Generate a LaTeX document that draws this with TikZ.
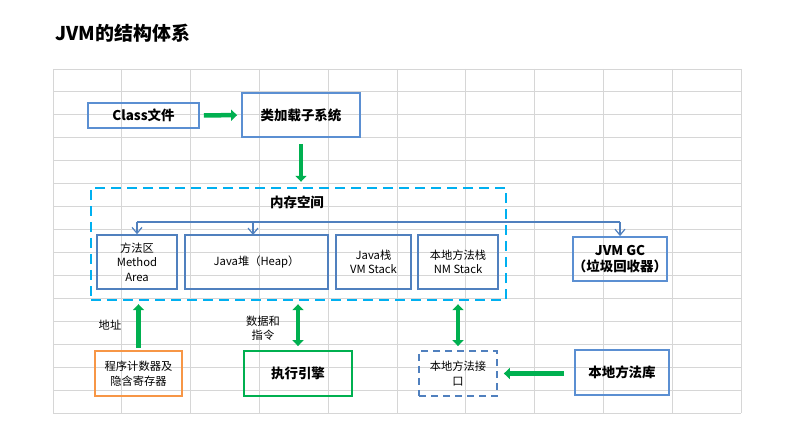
\documentclass[tikz,border=0pt]{standalone}
\usepackage{fontspec}
\setmainfont{Noto Sans CJK SC}
\usepackage{xcolor}
\usepackage{tikz}
\usetikzlibrary{arrows.meta,positioning}
\definecolor{gridgray}{HTML}{D6D6D6}
\definecolor{boxblue}{HTML}{5B8FD2}
\definecolor{innerblue}{HTML}{5080BE}
\definecolor{memcyan}{HTML}{00B0F0}
\definecolor{flowgreen}{HTML}{00B050}
\definecolor{pcorange}{HTML}{F79646}
\newcommand\smallcn{\fontsize{11.3}{14.5}\selectfont}
\newcommand\boldcn{\fontsize{13.5}{16}\selectfont\bfseries}

\begin{document}
\begin{tikzpicture}[x=1bp, y=-1bp]
                \tikzstyle{block} = [draw=boxblue, rectangle, line width=1.8bp, inner sep=0pt, align=center, font=\boldcn]
                \tikzstyle{inner} = [draw=innerblue, rectangle, line width=1.5bp, inner sep=0pt, minimum height=54bp, align=center, font=\smallcn]
                \tikzstyle{flow} = [draw=flowgreen, line width=4.5bp, -{Triangle[width=11bp,length=6bp]}]
                \tikzstyle{flowboth} = [draw=flowgreen, line width=4.5bp, {Triangle[width=11bp,length=6bp]}-{Triangle[width=11bp,length=6bp]}]
                \tikzstyle{busline} = [draw=innerblue, line width=1.2bp]
                \useasboundingbox (0,0) rectangle (802,433);

                % grid of the sheet
                \foreach \i in {0,...,10}
                    \draw [gridgray, line width=0.9bp] (53+68.8*\i,69) -- (53+68.8*\i,413);
                \foreach \j in {0,...,15}
                    \draw [gridgray, line width=0.9bp] (53,69+22.93*\j) -- (741,69+22.93*\j);

                \node [anchor=west, font=\fontsize{19}{21}\selectfont\bfseries] (title) at (52,33) {JVM的结构体系};

                \node [block, minimum width=111bp, minimum height=25bp] (cls) at (143.5,115.5) {Class文件};
                \node [block, minimum width=118bp, minimum height=44bp] (loader) at (301,115) {类加载子系统};

                \node [draw=memcyan, rectangle, line width=2.4bp, dash pattern=on 10bp off 6bp, minimum width=415bp, minimum height=112bp] (mem) at (298.5,244) {};
                \node [font=\boldcn] (memlabel) at (297,202) {内存空间};
                \node [inner, minimum width=80bp] (meth) at (137,262) {方法区\\Method\\Area};
                \node [inner, minimum width=143bp] (heap) at (256.5,262) {Java堆（Heap）};
                \node [inner, minimum width=75bp] (jstack) at (373.5,262) {Java栈\\VM Stack};
                \node [inner, minimum width=80bp] (nstack) at (458,262) {本地方法栈\\NM Stack};
                \node [block, minimum width=94bp, minimum height=44bp] (gc) at (620,259) {JVM GC\\（垃圾回收器）};

                \node [draw=pcorange, rectangle, line width=1.8bp, minimum width=87bp, minimum height=45bp, align=center, font=\smallcn] (pc) at (138.5,373.5) {程序计数器及\\隐含寄存器};
                \node [draw=flowgreen, rectangle, line width=1.8bp, minimum width=108bp, minimum height=45bp, font=\boldcn] (exec) at (298,373.5) {执行引擎};
                \node [draw=innerblue, rectangle, line width=1.8bp, dash pattern=on 7bp off 5bp, minimum width=78bp, minimum height=45bp, align=center, font=\smallcn] (nif) at (458,373.5) {本地方法接\\口};
                \node [block, minimum width=94bp, minimum height=45bp] (lib) at (622,372.5) {本地方法库};

                \node [font=\smallcn] (addr) at (110,325) {地址};
                \node [font=\smallcn, align=center] (data) at (263,328) {数据和\\指令};

                \coordinate (bus) at (300,222);
                \coordinate (heaptop) at (253,235);
                \draw [busline] (bus -| meth) -- (bus -| gc);
                \draw [busline, -{Straight Barb[length=6bp,width=10bp]}] (bus -| meth) -- (meth.north);
                \draw [busline, -{Straight Barb[length=6bp,width=10bp]}] (bus -| heaptop) -- (heaptop);
                \draw [busline, -{Straight Barb[length=6bp,width=10bp]}] (bus -| gc) -- (gc.north);

                \draw [flow, shorten <=4bp, shorten >=4bp] (cls) -- (loader);
                \draw [flow, shorten <=6bp, shorten >=5bp] (loader.south) -- (loader.south |- mem.north);
                \draw [flow, shorten <=2bp, shorten >=3bp] (pc.north) -- (pc.north |- mem.south);
                \draw [flowboth, shorten <=3bp, shorten >=4bp] (mem.south -| exec) -- (exec.north);
                \draw [flowboth, shorten <=3bp, shorten >=4bp] (mem.south -| nif) -- (nif.north);
                \draw [flow, shorten <=10bp, shorten >=6bp] (lib.west |- nif) -- (nif.east);
                \end{tikzpicture}
\end{document}
